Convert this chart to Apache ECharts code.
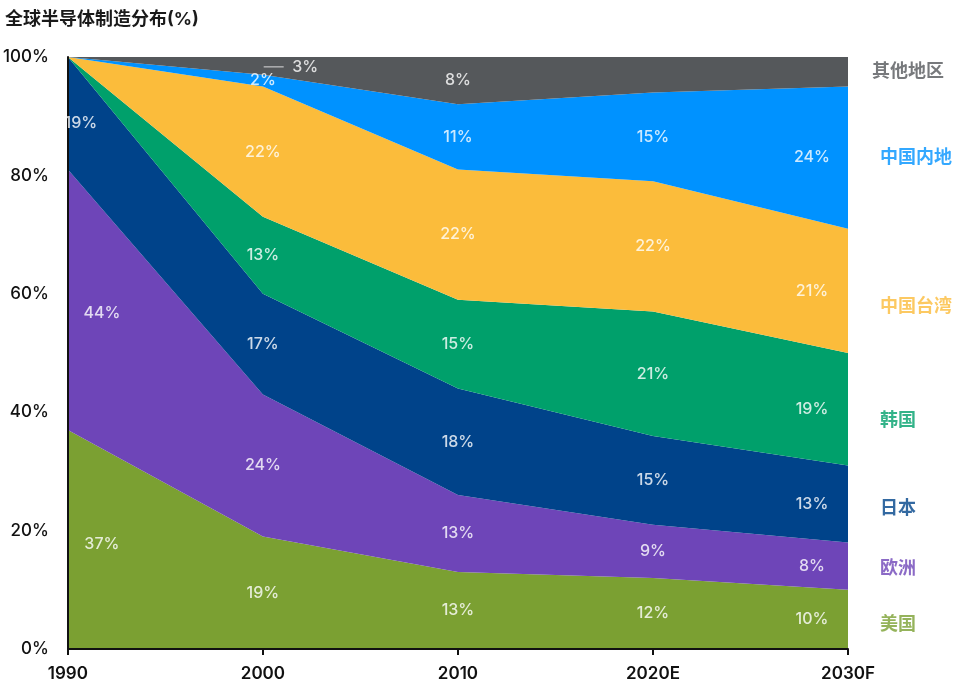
<!DOCTYPE html>
<html>
<head>
<meta charset="utf-8">
<script src="https://cdn.jsdelivr.net/npm/echarts@6/dist/echarts.min.js"></script>
<style>
html,body{margin:0;padding:0;background:#fff;}
#chart{width:960px;height:682px;}
</style>
</head>
<body>
<div id="chart"></div>
<script>
// ---- data ----
const years = ['1990', '2000', '2010', '2020E', '2030F'];
const regionNames = ['美国', '欧洲', '日本', '韩国', '中国台湾', '中国内地', '其他地区'];
const usa    = [37, 19, 13, 12, 10];
const europe = [44, 24, 13, 9, 8];
const japan  = [19, 17, 18, 15, 13];
const korea  = [0, 13, 15, 21, 19];
const taiwan = [0, 22, 22, 22, 21];
const china  = [0, 2, 11, 15, 24];
const others = [0, 3, 8, 6, 5];
const yTicks = [0, 20, 40, 60, 80, 100];
const titleText = '全球半导体制造分布(%)';

// ---- styles ----
const seriesData = [usa, europe, japan, korea, taiwan, china, others];
const colors = ['#7ba032', '#6e45b8', '#00438a', '#00a06b', '#fbbc3b', '#0092ff', '#55585b'];
const font = 'Inter, "Noto Sans CJK SC", sans-serif';
// labels that are not drawn in the bands (region index, year index)
const hiddenBand = {'6-3': true, '6-4': true, '6-1': true};
const firstColDy = [5, 13, 10, 0, 0, 0, 0];
const rightLabelDy = [5, 2, 5, 11, 16, 0, 0];

const chart = echarts.init(document.getElementById('chart'));

const areaSeries = seriesData.map((arr, i) => ({
  name: regionNames[i],
  type: 'line',
  stack: 'total',
  data: arr,
  symbol: 'none',
  lineStyle: {width: 0},
  areaStyle: {color: colors[i], opacity: 1},
  itemStyle: {color: colors[i]},
  z: 2
}));

// band labels: place at the middle of each band through the y scale
const bandLabels = [];
const cum = years.map(() => 0);
seriesData.forEach((arr, i) => {
  arr.forEach((v, j) => {
    const mid = cum[j] + v / 2;
    cum[j] += v;
    if (v <= 0 || hiddenBand[i + '-' + j]) return;
    let dx = 0, dy = 0;
    if (j === 0) { dx = (i === 2) ? 13 : 34; dy = firstColDy[i]; }
    if (j === years.length - 1) dx = -36;
    bandLabels.push({value: [j, mid], label: {offset: [dx, dy]}, text: v + '%'});
  });
});
// the tiny "others" 2000 label with a leader line
const cum2000 = seriesData.slice(0, 6).reduce((s, a) => s + a[1], 0);
bandLabels.push({
  value: [1, cum2000 + others[1] / 2],
  text: '{l|}  ' + others[1] + '%',
  label: {offset: [28, 1]}
});

const rightLabels = [];
let acc = 0;
const last = years.length - 1;
seriesData.forEach((arr, i) => {
  const v = arr[last];
  const mid = acc + v / 2;
  acc += v;
  rightLabels.push({
    value: [last, mid],
    text: regionNames[i],
    label: {color: colors[i], offset: [i === 6 ? 24 : 32, rightLabelDy[i]]}
  });
});

const option = {
  animation: false,
  backgroundColor: '#fff',
  title: {
    text: titleText,
    left: 0, top: 6,
    textStyle: {fontFamily: font, fontSize: 18, fontWeight: 'bold', color: '#1a1a1a'}
  },
  grid: {left: 67, right: 112, top: 57, bottom: 33},
  xAxis: {
    type: 'category',
    data: years,
    boundaryGap: false,
    axisLine: {lineStyle: {color: '#111', width: 2}},
    axisTick: {show: true, length: 6, lineStyle: {color: '#111', width: 2}},
    axisLabel: {fontFamily: font, fontSize: 17, fontWeight: 600, color: '#111', margin: 16,
      showMinLabel: true, showMaxLabel: true},
    splitLine: {show: false},
    z: 5
  },
  yAxis: {
    type: 'value',
    min: yTicks[0], max: yTicks[yTicks.length - 1], interval: 20,
    axisLine: {show: true, lineStyle: {color: '#111', width: 2}},
    axisTick: {show: false},
    axisLabel: {fontFamily: font, fontSize: 17, fontWeight: 500, color: '#111', margin: 19,
      formatter: v => v + '%'},
    splitLine: {show: false},
    z: 5
  },
  series: areaSeries.concat([
    {
      type: 'scatter',
      data: bandLabels,
      symbolSize: 0,
      silent: true,
      z: 10,
      label: {
        show: true,
        position: 'inside',
        formatter: p => p.data.text,
        fontFamily: font, fontSize: 16, fontWeight: 500, color: '#fff',
        rich: {
          l: {width: 20, height: 1, backgroundColor: '#fff'}
        }
      }
    },
    {
      type: 'scatter',
      data: rightLabels,
      symbolSize: 0,
      silent: true,
      z: 10,
      label: {
        show: true,
        position: 'inside',
        align: 'left',
        formatter: p => p.data.text,
        fontFamily: font, fontSize: 18, fontWeight: 'bold'
      }
    }
  ])
};
chart.setOption(option);
</script>
</body>
</html>
